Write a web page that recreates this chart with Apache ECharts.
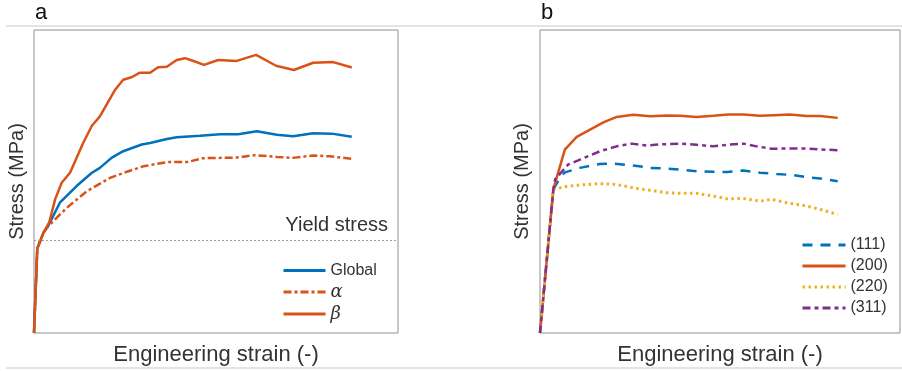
<!DOCTYPE html>
<html>
<head>
<meta charset="utf-8">
<script src="https://cdn.jsdelivr.net/npm/echarts@6/dist/echarts.min.js"></script>
<style>
html,body{margin:0;padding:0;background:#fff;}
#c{width:902px;height:371px;}
</style>
</head>
<body>
<div id="c"></div>
<script>
// Panel a: [strain (arb. %), stress (arb. units)]
const globalData = [[0,0],[0.9,27.9],[2.6,33.1],[3.9,35.3],[7.1,43.0],[11.7,48.5],[15.9,52.9],[18.1,54.5],[21.3,57.8],[24.5,60.0],[29.6,62.2],[31.9,62.7],[36.5,64.0],[39.2,64.6],[45.6,65.1],[51.1,65.6],[56.1,65.6],[61.2,66.6],[66.7,65.4],[71.2,64.9],[76.7,65.9],[81.8,65.8],[87.3,64.8]];
const alphaData = [[0,0],[0.9,27.9],[2.6,33.1],[3.9,35.3],[9.0,41.3],[14.5,46.8],[20.9,51.2],[24.5,52.8],[30.0,55.0],[36.5,56.4],[42.0,56.4],[46.5,57.7],[55.7,57.9],[60.7,58.7],[66.7,58.1],[71.2,57.8],[76.7,58.6],[81.3,58.3],[87.3,57.5]];
const betaData = [[0,0],[0.9,27.9],[2.6,33.1],[4.2,36.6],[5.8,44.1],[7.6,49.6],[9.9,52.9],[13.5,62.7],[15.9,68.4],[18.1,71.5],[22.3,80.3],[24.5,83.6],[26.8,84.4],[29.1,85.9],[31.9,85.9],[34.1,87.7],[36.5,87.9],[39.2,90.1],[41.5,90.7],[44.2,89.6],[46.7,88.5],[50.6,90.1],[55.7,89.8],[61.0,91.8],[66.5,88.2],[71.4,86.8],[76.7,89.2],[82.2,89.4],[87.3,87.6]];
const yieldStress = 30.7;

// Panel b: lattice strain families
const s111 = [[0,0],[3.7,47.4],[5.6,51.3],[6.9,53.0],[11.1,54.5],[16.7,55.8],[20.4,55.9],[25.9,55.3],[30.6,54.5],[35.2,54.3],[38.9,53.9],[43.5,53.4],[48.1,53.2],[51.9,53.1],[56.5,53.6],[61.1,52.9],[65.7,52.5],[70.4,52.1],[74.1,51.4],[77.8,51.0],[82.7,50.1]];
const s200 = [[0,0],[3.7,47.4],[6.9,60.5],[10.2,64.7],[13.9,67.1],[17.6,69.5],[21.3,71.3],[25.9,72.0],[30.6,71.5],[35.2,71.8],[38.9,71.7],[43.5,71.3],[48.1,71.7],[52.3,72.1],[56.5,72.1],[61.1,71.7],[64.8,71.9],[69.4,72.1],[74.1,71.6],[77.8,71.6],[82.7,71.0]];
const s220 = [[0,0],[3.7,47.4],[5.6,47.9],[7.8,48.5],[13.0,49.0],[16.7,49.3],[21.3,49.0],[25.9,47.9],[30.6,47.1],[35.2,46.3],[38.9,46.1],[43.5,46.1],[48.1,45.2],[51.9,44.3],[56.5,44.4],[61.1,43.5],[64.4,44.1],[68.5,43.0],[74.1,41.9],[77.8,40.8],[82.7,39.1]];
const s311 = [[0,0],[3.7,47.4],[4.2,50.7],[7.8,55.6],[11.1,57.2],[16.7,60.0],[21.3,61.6],[25.5,62.5],[29.6,61.9],[34.3,62.3],[38.9,62.5],[43.5,62.1],[48.1,61.6],[51.9,62.1],[56.5,62.5],[60.2,61.6],[64.4,60.8],[69.4,60.9],[74.1,60.9],[77.8,60.6],[82.7,60.3]];

const xTitle = 'Engineering strain (-)';
const yTitle = 'Stress (MPa)';

const FONT = '"Liberation Sans", Arial, Helvetica, sans-serif';
const C_BLUE = '#0072BD', C_ORANGE = '#D95319', C_YELLOW = '#EDB120', C_PURPLE = '#7E2F8E';

const chart = echarts.init(document.getElementById('c'), null, {renderer: 'canvas'});

function xAx(gi) {
  return {
    type: 'value', gridIndex: gi, min: 0, max: 100,
    axisLine: {show: false}, axisTick: {show: false}, axisLabel: {show: false}, splitLine: {show: false},
    name: xTitle, nameLocation: 'middle', nameGap: 11,
    nameTextStyle: {fontSize: 22, color: '#333', fontFamily: FONT}
  };
}
function yAx(gi, gap) {
  return {
    type: 'value', gridIndex: gi, min: 0, max: 100,
    axisLine: {show: false}, axisTick: {show: false}, axisLabel: {show: false}, splitLine: {show: false},
    name: yTitle, nameLocation: 'middle', nameGap: gap,
    nameTextStyle: {fontSize: 20, color: '#333', fontFamily: FONT}
  };
}
function ln(name, data, xi, color, type, width) {
  return {
    name: name, type: 'line', xAxisIndex: xi, yAxisIndex: xi, data: data,
    symbol: 'none', showSymbol: false, smooth: false, animation: false,
    legendIcon: 'none',
    lineStyle: {color: color, width: width || 2.5, type: type},
    itemStyle: {color: color}
  };
}

const glob = ln('Global', globalData, 0, C_BLUE, 'solid');
glob.markLine = {
  silent: true, symbol: 'none', animation: false,
  lineStyle: {color: '#a0a0a0', width: 1, type: [2, 2]},
  label: {show: true, position: 'insideEndTop', formatter: 'Yield stress', fontSize: 20, color: '#333', fontFamily: FONT, distance: [10, 4]},
  data: [{yAxis: yieldStress}]
};

const legendItemStyle = {opacity: 0, borderWidth: 0};
const legendLineStyle = {width: 3};

chart.setOption({
  animation: false,
  backgroundColor: '#fff',
  textStyle: {fontFamily: FONT},
  grid: [
    {left: 34, top: 30, width: 364, height: 304, show: true, borderColor: '#8f8f8f', borderWidth: 1, backgroundColor: 'transparent'},
    {left: 540, top: 30, width: 360, height: 304, show: true, borderColor: '#8f8f8f', borderWidth: 1, backgroundColor: 'transparent'}
  ],
  xAxis: [xAx(0), xAx(1)],
  yAxis: [yAx(0, 7), yAx(1, 8)],
  legend: [
    {
      data: ['Global', 'α', 'β'], orient: 'vertical', left: 277, top: 257,
      itemWidth: 42, itemHeight: 14, itemGap: 4, selectedMode: false,
      itemStyle: legendItemStyle, lineStyle: legendLineStyle,
      textStyle: {fontSize: 16, color: '#333', fontFamily: FONT, lineHeight: 17,
        rich: {g: {fontSize: 18, lineHeight: 17, fontStyle: 'italic', fontFamily: '"DejaVu Serif", "Liberation Serif", serif', color: '#333'}}},
      formatter: function (n) { return n === 'Global' ? n : '{g|' + n + '}'; }
    },
    {
      data: ['(111)', '(200)', '(220)', '(311)'], orient: 'vertical', left: 796, top: 232,
      itemWidth: 43, itemHeight: 14, itemGap: 5, selectedMode: false,
      itemStyle: legendItemStyle, lineStyle: legendLineStyle,
      textStyle: {fontSize: 16, color: '#333', fontFamily: FONT}
    }
  ],
  graphic: [
    {type: 'line', shape: {x1: 6, y1: 26, x2: 902, y2: 26}, style: {stroke: '#c8c8c8', lineWidth: 1}},
    {type: 'line', shape: {x1: 6, y1: 368, x2: 902, y2: 368}, style: {stroke: '#c8c8c8', lineWidth: 1}},
    {type: 'text', left: 35, top: 2, style: {text: 'a', fill: '#111', font: '22px ' + FONT}},
    {type: 'text', left: 541, top: 2, style: {text: 'b', fill: '#111', font: '22px ' + FONT}}
  ],
  series: [
    glob,
    ln('α', alphaData, 0, C_ORANGE, [8, 3, 3, 3]),
    ln('β', betaData, 0, C_ORANGE, 'solid'),
    ln('(111)', s111, 1, C_BLUE, [10, 8]),
    ln('(200)', s200, 1, C_ORANGE, 'solid'),
    ln('(220)', s220, 1, C_YELLOW, [2.5, 3.5], 3),
    ln('(311)', s311, 1, C_PURPLE, [8, 4, 4, 4])
  ]
});
</script>
</body>
</html>
